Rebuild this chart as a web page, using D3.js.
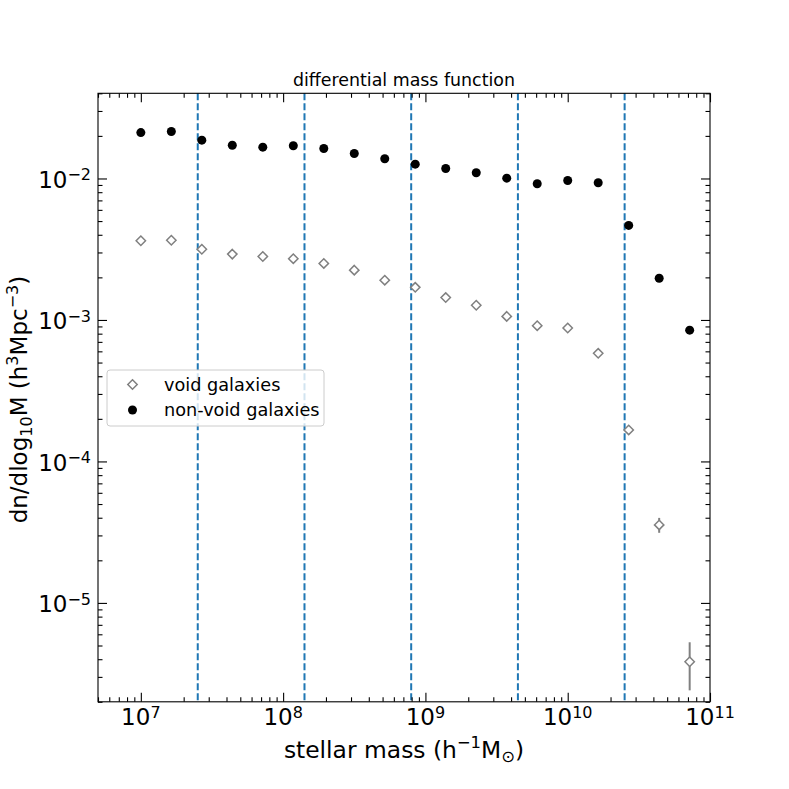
<!DOCTYPE html>
<html>
<head>
<meta charset="utf-8">
<script src="https://cdn.jsdelivr.net/npm/d3@7"></script>
<style>
body { margin: 0; background: #fff; }
text { font-family: "DejaVu Sans", sans-serif; }
</style>
</head>
<body>
<div id="chart"></div>
<script>
// stellar mass bin centres (h^-1 Msun)
var mass = [1.0e7, 1.638e7, 2.683e7, 4.394e7, 7.197e7, 1.179e8, 1.931e8, 3.162e8, 5.179e8, 8.483e8,
            1.389e9, 2.276e9, 3.728e9, 6.105e9, 1.0e10, 1.638e10, 2.683e10, 4.394e10, 7.197e10]
// dn/dlog10M (h^3 Mpc^-3)
var nonVoid = [0.0211, 0.0215, 0.01866, 0.01718, 0.01664, 0.01703, 0.0163, 0.01502, 0.01378, 0.01262,
               0.01177, 0.01097, 0.01005, 0.00917, 0.00968, 0.00932, 0.00466, 0.00197, 0.000847]
var voidVals = [0.00363, 0.00366, 0.00316, 0.00292, 0.00281, 0.00271, 0.00251, 0.00225, 0.00191, 0.00170,
                0.00144, 0.00127, 0.00106, 0.000911, 0.000877, 0.000581, 0.000167, 0.0000356, 0.00000384]
var voidErr = [0.00005, 0.00005, 0.00004, 0.00004, 0.00004, 0.00003, 0.00003, 0.00003, 0.00003, 0.00002,
               0.00002, 0.00002, 0.00002, 0.00002, 0.00002, 0.00001, 0.0000105, 0.0000043, 0.00000143]
// vertical dashed lines
var edges = [2.512e7, 1.413e8, 7.943e8, 4.467e9, 2.512e10]
var xMajor = [1e7, 1e8, 1e9, 1e10, 1e11]
var xExp = ["7", "8", "9", "10", "11"]
var yMajor = [1e-2, 1e-3, 1e-4, 1e-5]
var yExp = ["\u22122", "\u22123", "\u22124", "\u22125"]

var W = 789, H = 789
var mLeft = 98, mTop = 93.3, width = 612, height = 608.5

var svg = d3.select("#chart").append("svg")
  .attr("width", W).attr("height", H)

var x = d3.scaleLog().domain([5e6, 1e11]).range([0, width])
var y = d3.scaleLog().domain([2e-6, 0.04]).range([height, 0])

var g = svg.append("g").attr("transform", "translate(" + mLeft + "," + mTop + ")")

// dashed lines
g.selectAll(".edge").data(edges).join("line")
  .attr("x1", d => x(d)).attr("x2", d => x(d))
  .attr("y1", 0).attr("y2", height)
  .attr("stroke", "#1f77b4").attr("stroke-width", 2)
  .attr("stroke-dasharray", "7,3")

// void error bars
g.selectAll(".err").data(mass).join("line")
  .attr("x1", d => x(d)).attr("x2", d => x(d))
  .attr("y1", (d, i) => y(voidVals[i] + voidErr[i]))
  .attr("y2", (d, i) => y(voidVals[i] - voidErr[i]))
  .attr("stroke", "gray").attr("stroke-width", 2)

var diamond = function(cx, cy, r) {
  return "M" + cx + "," + (cy - r) + "L" + (cx + r) + "," + cy + "L" + cx + "," + (cy + r) + "L" + (cx - r) + "," + cy + "Z"
}

g.selectAll(".void").data(mass).join("path")
  .attr("d", (d, i) => diamond(x(d), y(voidVals[i]), 4.7))
  .attr("fill", "white").attr("stroke", "gray").attr("stroke-width", 1.5)

g.selectAll(".nonvoid").data(mass).join("circle")
  .attr("cx", d => x(d)).attr("cy", (d, i) => y(nonVoid[i]))
  .attr("r", 4.5).attr("fill", "black")

// axes, ticks pointing inward on all four sides
var minorX = x.ticks().filter(d => xMajor.indexOf(d) < 0)
var minorY = y.ticks().filter(d => yMajor.indexOf(d) < 0)

function addAxis(axisFn, scale, vals, size, tr) {
  var a = g.append("g").attr("transform", tr)
    .call(axisFn(scale).tickValues(vals).tickSize(size).tickFormat(""))
  a.select(".domain").remove()
  a.selectAll("line").attr("stroke", "black").attr("stroke-width", 1.1)
}
addAxis(d3.axisBottom, x, xMajor, -9, "translate(0," + height + ")")
addAxis(d3.axisBottom, x, minorX, -4.5, "translate(0," + height + ")")
addAxis(d3.axisTop, x, xMajor, -9, "translate(0,0)")
addAxis(d3.axisTop, x, minorX, -4.5, "translate(0,0)")
addAxis(d3.axisLeft, y, yMajor, -9, "translate(0,0)")
addAxis(d3.axisLeft, y, minorY, -4.5, "translate(0,0)")
addAxis(d3.axisRight, y, yMajor, -9, "translate(" + width + ",0)")
addAxis(d3.axisRight, y, minorY, -4.5, "translate(" + width + ",0)")

g.append("rect").attr("width", width).attr("height", height)
  .attr("fill", "none").attr("stroke", "black").attr("stroke-width", 1.1)

// tick labels
xMajor.forEach(function(v, i) {
  var t = g.append("text").attr("x", x(v)).attr("y", height + 23.5)
    .attr("text-anchor", "middle").style("font-size", "23px")
  t.append("tspan").text("10")
  t.append("tspan").attr("dy", -7.5).style("font-size", "16px").text(xExp[i])
})
yMajor.forEach(function(v, i) {
  var t = g.append("text").attr("x", -7).attr("y", y(v) + 9.3)
    .attr("text-anchor", "end").style("font-size", "23px")
  t.append("tspan").text("10")
  t.append("tspan").attr("dy", -7.5).style("font-size", "16px").text(yExp[i])
})

// title
g.append("text").attr("x", width / 2).attr("y", -7.5)
  .attr("text-anchor", "middle").style("font-size", "17.4px")
  .text("differential mass function")

// x label
var xl = g.append("text").attr("x", width / 2).attr("y", height + 56)
  .attr("text-anchor", "middle").style("font-size", "23.4px")
xl.append("tspan").text("stellar mass (h")
xl.append("tspan").attr("dy", -9.5).style("font-size", "16.4px").text("\u22121")
xl.append("tspan").attr("dy", 9.5).text("M")
xl.append("tspan").attr("dy", 4).style("font-size", "16.4px").text("\u2299")
xl.append("tspan").attr("dy", -4).text(")")

// y label
var yl = svg.append("text")
  .attr("transform", "translate(27," + (mTop + height / 2 + 2) + ") rotate(-90)")
  .attr("text-anchor", "middle").style("font-size", "23px")
yl.append("tspan").text("dn/dlog")
yl.append("tspan").attr("dy", 4.5).style("font-size", "16px").text("10")
yl.append("tspan").attr("dy", -4.5).text("M (h")
yl.append("tspan").attr("dy", -9.5).style("font-size", "16px").text("3")
yl.append("tspan").attr("dy", 9.5).text("Mpc")
yl.append("tspan").attr("dy", -9.5).style("font-size", "16px").text("\u22123")
yl.append("tspan").attr("dy", 9.5).text(")")

// legend
var lg = svg.append("g").attr("transform", "translate(107,370)")
lg.append("rect").attr("width", 217).attr("height", 56).attr("rx", 3)
  .attr("fill", "white").attr("fill-opacity", 0.8)
  .attr("stroke", "#cccccc").attr("stroke-width", 1)
lg.append("path").attr("d", diamond(25.5, 14.5, 4.7))
  .attr("fill", "white").attr("stroke", "gray").attr("stroke-width", 1.5)
lg.append("circle").attr("cx", 25.5).attr("cy", 40).attr("r", 4.5).attr("fill", "black")
lg.append("text").attr("x", 57).attr("y", 20.5).style("font-size", "17.7px").text("void galaxies")
lg.append("text").attr("x", 57).attr("y", 46).style("font-size", "17.7px").text("non-void galaxies")
</script>
</body>
</html>
